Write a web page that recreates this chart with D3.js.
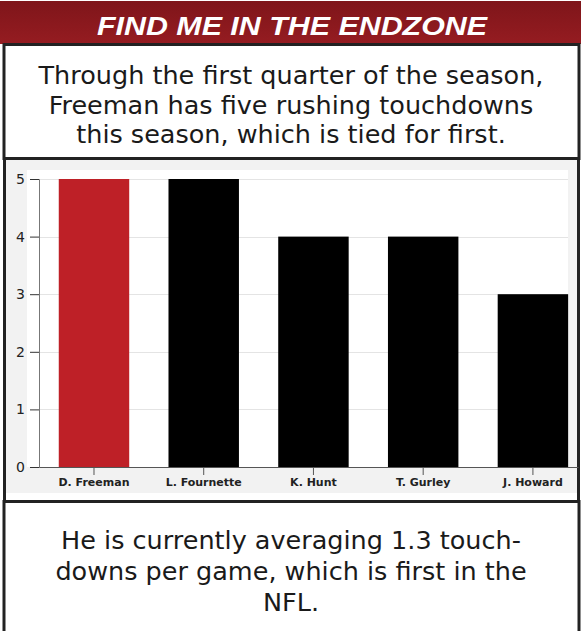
<!DOCTYPE html>
<html>
<head>
<meta charset="utf-8">
<script src="https://cdn.jsdelivr.net/npm/d3@7"></script>
<style>
  html, body { margin: 0; padding: 0; background: #fff; }
  svg { display: block; }
</style>
</head>
<body>
<div class="chart"></div>
<script>
// chart values
var players = ["D. Freeman", "L. Fournette", "K. Hunt", "T. Gurley", "J. Howard"];
var touchdowns = [5, 5, 4, 4, 3];
var yTicks = [0, 1, 2, 3, 4, 5];
var highlight = "D. Freeman";

var title = "FIND ME IN THE ENDZONE";
var topLines = [
  "Through the first quarter of the season,",
  "Freeman has five rushing touchdowns",
  "this season, which is tied for first."
];
var bottomLines = [
  "He is currently averaging 1.3 touch-",
  "downs per game, which is first in the",
  "NFL."
];

var W = 581, H = 631;
var bodyFont = "'DejaVu Sans', Verdana, sans-serif";
var axisFont = "'DejaVu Sans', Verdana, sans-serif";

var svg = d3.select(".chart").append("svg")
  .attr("width", W)
  .attr("height", H);

// banner
var grad = svg.append("defs").append("linearGradient")
  .attr("id", "banner")
  .attr("x1", 0).attr("y1", 0).attr("x2", 0).attr("y2", 1);
grad.append("stop").attr("offset", "0%").attr("stop-color", "#7f151a");
grad.append("stop").attr("offset", "100%").attr("stop-color", "#951c21");

svg.append("rect")
  .attr("x", 0).attr("y", 1)
  .attr("width", W).attr("height", 43)
  .attr("fill", "url(#banner)");

svg.append("text")
  .attr("x", 292).attr("y", 35)
  .attr("text-anchor", "middle")
  .attr("fill", "#fff")
  .attr("textLength", 390)
  .attr("lengthAdjust", "spacingAndGlyphs")
  .style("font-family", "'Liberation Sans', Arial, sans-serif")
  .style("font-weight", "bold")
  .style("font-style", "italic")
  .style("font-size", "26px")
  .text(title);

// top text box
svg.append("rect")
  .attr("x", 4).attr("y", 44.5)
  .attr("width", 575).attr("height", 114)
  .attr("fill", "#fff")
  .attr("stroke", "#222")
  .attr("stroke-width", 3);

svg.append("g").selectAll("text")
  .data(topLines)
  .enter().append("text")
    .attr("x", 291)
    .attr("y", (d, i) => 84 + i * 29.5)
    .attr("text-anchor", "middle")
    .attr("fill", "#1a1a1a")
    .style("font-family", bodyFont)
    .style("font-size", "25.5px")
    .text(d => d);

// bottom text box
svg.append("rect")
  .attr("x", 4).attr("y", 501.5)
  .attr("width", 575).attr("height", 140)
  .attr("fill", "#fff")
  .attr("stroke", "#222")
  .attr("stroke-width", 3);

svg.append("g").selectAll("text")
  .data(bottomLines)
  .enter().append("text")
    .attr("x", 291)
    .attr("y", (d, i) => 549 + i * 31)
    .attr("text-anchor", "middle")
    .attr("fill", "#1a1a1a")
    .style("font-family", bodyFont)
    .style("font-size", "25.5px")
    .text(d => d);

// chart panel
svg.append("rect")
  .attr("x", 4.5).attr("y", 158.5)
  .attr("width", 574).attr("height", 343)
  .attr("fill", "#fff")
  .attr("stroke", "#222")
  .attr("stroke-width", 3);

svg.append("rect")
  .attr("x", 6).attr("y", 160)
  .attr("width", 571).attr("height", 333)
  .attr("fill", "#f2f2f2");

var plot = {left: 39, right: 578, top: 179, bottom: 467};

svg.append("rect")
  .attr("x", 27).attr("y", 170)
  .attr("width", plot.right - 27 - 10).attr("height", plot.bottom - 170)
  .attr("fill", "#fff");

var x = d3.scaleBand()
  .domain(players)
  .range([plot.left, plot.right])
  .paddingInner(0.358)
  .paddingOuter(0.135)
  .align(0.667);

var y = d3.scaleLinear()
  .domain([0, 5])
  .range([plot.bottom, plot.top]);

// gridlines
svg.append("g").selectAll("line")
  .data(yTicks.filter(d => d > 0))
  .enter().append("line")
    .attr("x1", plot.left).attr("x2", plot.right - 10)
    .attr("y1", d => Math.round(y(d)) + 0.5)
    .attr("y2", d => Math.round(y(d)) + 0.5)
    .attr("stroke", "#e4e4e4");

// bars
svg.append("g").selectAll("rect")
  .data(players)
  .enter().append("rect")
    .attr("x", d => x(d))
    .attr("y", (d, i) => y(touchdowns[i]))
    .attr("width", x.bandwidth())
    .attr("height", (d, i) => y(0) - y(touchdowns[i]))
    .attr("fill", d => d === highlight ? "#be2027" : "#000");

// axes
var yAxis = d3.axisLeft(y)
  .tickValues(yTicks)
  .tickFormat(d3.format("d"))
  .tickSize(9)
  .tickPadding(5);
var gY = svg.append("g")
  .attr("transform", `translate(${plot.left}, 0)`)
  .call(yAxis);
gY.select(".domain").attr("stroke", "#777");
gY.selectAll(".tick line").attr("stroke", "#333");
gY.selectAll(".tick text")
  .attr("fill", "#222")
  .style("font-family", axisFont)
  .style("font-size", "14px");

var xAxis = d3.axisBottom(x).tickSize(8).tickSizeOuter(0).tickPadding(3);
var gX = svg.append("g")
  .attr("transform", `translate(0, ${plot.bottom})`)
  .call(xAxis);
gX.select(".domain").attr("stroke", "#555");
gX.selectAll(".tick line").attr("stroke", "#555");
gX.selectAll(".tick text")
  .attr("fill", "#222")
  .style("font-family", axisFont)
  .style("font-weight", "bold")
  .style("font-size", "11px");
</script>
</body>
</html>
